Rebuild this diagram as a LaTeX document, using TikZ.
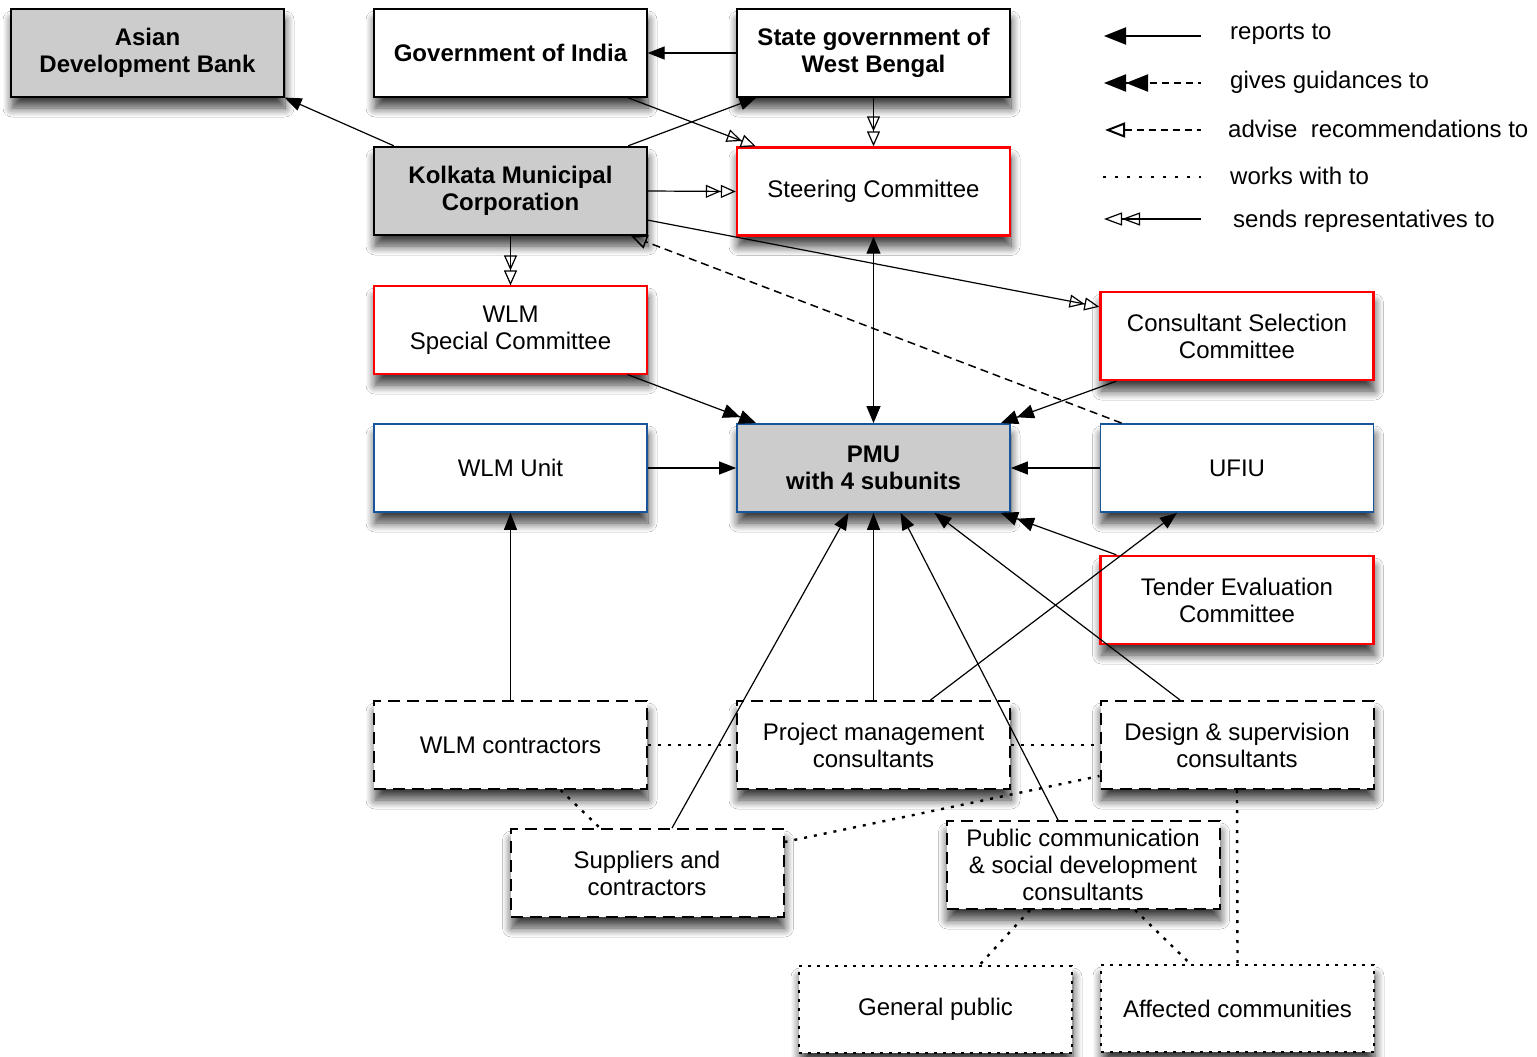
\documentclass[tikz,border=0pt]{standalone}
\usepackage{fontspec}
\setmainfont{Liberation Sans}
\usetikzlibrary{arrows.meta,calc,shadows.blur}
\definecolor{boxgray}{RGB}{204,204,204}
\definecolor{boxred}{RGB}{250,0,0}
\definecolor{boxblue}{RGB}{25,85,155}
\begin{document}
\begin{tikzpicture}[x=1pt,y=-1pt,
  base/.style={rectangle, minimum width=273pt, minimum height=88pt, inner sep=0pt, align=center,
    font=\fontsize{24}{27}\selectfont, fill=white, draw=black, line width=1.2pt,
    blur shadow={shadow xshift=1pt, shadow yshift=-11pt, shadow blur radius=9pt, shadow opacity=75, shadow blur steps=10}},
  boldtxt/.style={font=\fontsize{24}{27}\selectfont\bfseries},
  graybox/.style={base, fill=boxgray},
  redbox/.style={base, draw=boxred, line width=2.4pt},
  redthin/.style={base, draw=boxred, line width=1.2pt},
  bluebox/.style={base, draw=boxblue, line width=1.8pt},
  dashbox/.style={base, line width=2pt, dash pattern=on 12pt off 7pt},
  dotbox/.style={base, line width=2pt, dash pattern=on 3pt off 6pt},
  legtxt/.style={anchor=west, inner sep=0pt, font=\fontsize{24}{27}\selectfont},
  rep/.style={-{Triangle[length=17pt,width=13pt]}, line width=1.2pt},
  reptwo/.style={-{Triangle[length=17pt,width=14pt]Triangle[length=17pt,width=14pt]}, line width=1.2pt},
  sendrep/.style={-{Triangle[open,length=15pt,width=13pt]Triangle[open,length=15pt,width=13pt]}, line width=1.2pt},
  advise/.style={-{Triangle[open,length=16pt,width=14pt]}, line width=1.5pt, dash pattern=on 8pt off 5pt},
  works/.style={line width=2.4pt, dash pattern=on 3pt off 7pt}
]
\useasboundingbox (0,0) rectangle (1537,1057);
\fill[white] (0,0) rectangle (1537,1057);

% nodes
\node[graybox, boldtxt] (adb) at (147.5,53) {Asian\\Development Bank};
\node[base, boldtxt] (goi) at (510.5,53) {Government of India};
\node[base, boldtxt] (sgwb) at (873.5,53) {State government of\\West Bengal};
\node[graybox, boldtxt, line width=2.4pt] (kmc) at (510.5,191) {Kolkata Municipal\\Corporation};
\node[redbox] (steer) at (873.5,191.5) {Steering Committee};
\node[redthin] (wlms) at (510.5,330) {WLM\\Special Committee};
\node[redbox] (csc) at (1237,336) {Consultant Selection\\Committee};
\node[bluebox] (wlmu) at (510.5,468) {WLM Unit};
\node[bluebox, fill=boxgray, boldtxt] (pmu) at (873.5,468) {PMU\\with 4 subunits};
\node[bluebox] (ufiu) at (1237,468) {UFIU};
\node[redbox] (tec) at (1237,600) {Tender Evaluation\\Committee};
\node[dashbox] (wlmc) at (510.5,745) {WLM contractors};
\node[dashbox] (pmc) at (873.5,745) {Project management\\consultants};
\node[dashbox] (ds) at (1237,745) {Design \& supervision\\consultants};
\node[dashbox] (sup) at (647,873) {Suppliers and\\contractors};
\node[dashbox] (pc) at (1083,865) {Public communication\\\& social development\\consultants};
\node[dotbox, minimum height=87pt] (gp) at (935.5,1009.5) {General public};
\node[dotbox, minimum height=87pt] (ac) at (1237.5,1008.5) {Affected communities};

% reports to
\draw[rep] ($(kmc.north west)+(21,0)$) -- (adb.south east);
\draw[rep] (sgwb.west) -- (goi.east);
\draw[rep] ($(kmc.north east)+(-20,0)$) -- ($(sgwb.south west)+(20,0)$);
\draw[{Triangle[length=17pt,width=14pt]}-{Triangle[length=17pt,width=14pt]}, line width=1.2pt] (steer.south) -- (pmu.north);
\draw[rep] (wlmu.east) -- (pmu.west);
\draw[rep] (ufiu.west) -- (pmu.east);
\draw[rep] (wlmc.north) -- (wlmu.south);
\draw[rep] (pmc.north) -- (pmu.south);
\draw[rep] ($(sup.north)+(25,0)$) -- ($(pmu.south)+(-25,0)$);
\draw[rep] ($(pc.north)+(-25,0)$) -- ($(pmu.south)+(27,0)$);
\draw[rep] ($(ds.north)+(-57,0)$) -- ($(pmu.south)+(61,0)$);
\draw[rep] ($(pmc.north)+(57,0)$) -- ($(ufiu.south)+(-60,0)$);
\draw[reptwo] ($(wlms.south east)+(-20,0)$) -- ($(pmu.north west)+(20,0)$);
\draw[reptwo] ($(csc.south west)+(17,0)$) -- ($(pmu.north east)+(-10,0)$);
\draw[reptwo] ($(tec.north west)+(17,0)$) -- ($(pmu.south east)+(-10,0)$);

% sends representatives
\draw[sendrep] ($(goi.south east)+(-20,0)$) -- ($(steer.north west)+(20,0)$);
\draw[sendrep] (sgwb.south) -- (steer.north);
\draw[sendrep] (kmc.east) -- (steer.west);
\draw[sendrep] (kmc.south) -- (wlms.north);
\draw[sendrep] ($(kmc.south east)+(0,-16)$) -- ($(csc.north west)+(0,16)$);

% advise
\draw[advise] ($(ufiu.north west)+(22,0)$) -- ($(kmc.south east)+(-17,0)$);

% works with
\draw[works] (wlmc.east) -- (pmc.west);
\draw[works] (pmc.east) -- (ds.west);
\draw[works] ($(wlmc.south)+(50,0)$) -- ($(sup.north)+(-47,0)$);
\draw[works] ($(sup.north east)+(0,14)$) -- ($(ds.south west)+(0,-14)$);
\draw[works] (ds.south) -- (ac.north);
\draw[works] ($(pc.south)+(-53,0)$) -- ($(gp.north)+(44,0)$);
\draw[works] ($(pc.south)+(52,0)$) -- ($(ac.north)+(-47,0)$);

% legend
\coordinate (l1a) at (1104,36); \coordinate (l1b) at (1201,36);
\coordinate (l2a) at (1104,83); \coordinate (l2b) at (1201,83);
\coordinate (l3a) at (1105,130); \coordinate (l3b) at (1201,130);
\coordinate (l4a) at (1103,177); \coordinate (l4b) at (1201,177);
\coordinate (l5a) at (1104,219); \coordinate (l5b) at (1201,219);
\draw[{Triangle[length=22pt,width=17pt]}-, line width=2pt] (l1a) -- (l1b);
\draw[{Triangle[length=22pt,width=17pt]Triangle[length=22pt,width=17pt]}-, line width=2pt, dash pattern=on 7pt off 5pt] (l2a) -- (l2b);
\draw[{Triangle[open,length=20pt,width=15pt]}-, line width=2pt, dash pattern=on 7pt off 5pt] (l3a) -- (l3b);
\draw[line width=2.4pt, dash pattern=on 3pt off 9pt] (l4a) -- (l4b);
\draw[{Triangle[open,length=18pt,width=13pt]Triangle[open,length=18pt,width=13pt]}-, line width=1.2pt] (l5a) -- (l5b);
\node[legtxt] (t1) at (1230,34) {reports to};
\node[legtxt] (t2) at (1230,82) {gives guidances to};
\node[legtxt] (t3) at (1228,129) {advise\ \ recommendations to};
\node[legtxt] (t4) at (1230,176) {works with to};
\node[legtxt] (t5) at (1233,221) {sends representatives to};
\end{tikzpicture}
\end{document}
